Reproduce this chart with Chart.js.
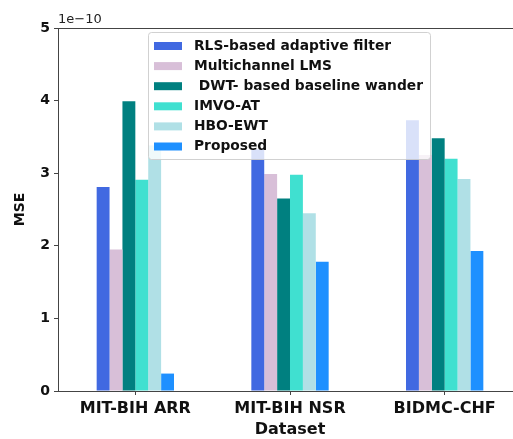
<!DOCTYPE html>
<html>
<head>
<meta charset="utf-8">
<script src="https://cdn.jsdelivr.net/npm/chart.js@4.4.1/dist/chart.umd.min.js"></script>
<style>
html,body{margin:0;padding:0;background:#fff;overflow:hidden;width:513px;height:439px;}
#wrap{width:525px;height:439px;position:relative;}
</style>
</head>
<body>
<div id="wrap"><canvas id="c" width="525" height="439"></canvas></div>
<script>
// Data (MSE in units of 1e-10)
const categories = ['MIT-BIH ARR', 'MIT-BIH NSR', 'BIDMC-CHF'];
const seriesNames = ['RLS-based adaptive filter', 'Multichannel LMS', ' DWT- based baseline wander', 'IMVO-AT', 'HBO-EWT', 'Proposed'];
const rlsValues      = [2.81, 3.33, 3.73];
const lmsValues      = [1.95, 2.99, 3.25];
const dwtValues      = [3.99, 2.65, 3.48];
const imvoValues     = [2.91, 2.98, 3.20];
const hboValues      = [3.38, 2.45, 2.92];
const proposedValues = [0.24, 1.78, 1.93];
const yTicks = [0, 1, 2, 3, 4, 5];
const exponentLabel = '1e\u221210';
const colors = ['#4169E1', '#D8BFD8', '#008080', '#40E0D0', '#B0E0E6', '#1E90FF'];
const allValues = [rlsValues, lmsValues, dwtValues, imvoValues, hboValues, proposedValues];

const FONT = "'DejaVu Sans', sans-serif";

const datasets = seriesNames.map((n, i) => ({
  label: n,
  data: allValues[i],
  backgroundColor: colors[i],
  borderWidth: 0,
  categoryPercentage: 0.5,
  barPercentage: 1.0
}));

const extras = {
  id: 'extras',
  afterDatasetsDraw(chart) {
    const ctx = chart.ctx, a = chart.chartArea;
    ctx.save();
    // top spine
    ctx.strokeStyle = '#444';
    ctx.lineWidth = 1;
    ctx.beginPath();
    ctx.moveTo(a.left, a.top + 0.5);
    ctx.lineTo(a.right, a.top + 0.5);
    ctx.stroke();
    // exponent label
    ctx.fillStyle = '#222';
    ctx.font = "13px " + FONT;
    ctx.textAlign = 'left';
    ctx.textBaseline = 'bottom';
    ctx.fillText(exponentLabel, a.left, a.top - 2);
    // legend
    const lx = a.left + 90, ly = a.top + 4, lw = 282, lh = 127;
    ctx.fillStyle = 'rgba(255,255,255,0.8)';
    ctx.strokeStyle = 'rgba(204,204,204,0.9)';
    ctx.beginPath();
    if (ctx.roundRect) ctx.roundRect(lx + 0.5, ly + 0.5, lw, lh, 3); else ctx.rect(lx + 0.5, ly + 0.5, lw, lh);
    ctx.fill();
    ctx.stroke();
    ctx.font = "bold 13.8px " + FONT;
    ctx.textBaseline = 'middle';
    chart.data.datasets.forEach((ds, i) => {
      const cy = ly + 14 + i * 20.1;
      ctx.fillStyle = ds.backgroundColor;
      ctx.fillRect(lx + 6, cy - 4, 28, 8);
      ctx.fillStyle = '#111';
      ctx.fillText(ds.label, lx + 46, cy);
    });
    ctx.restore();
  }
};

new Chart(document.getElementById('c'), {
  type: 'bar',
  data: { labels: categories, datasets },
  plugins: [extras],
  options: {
    responsive: false,
    animation: false,
    devicePixelRatio: 1,
    layout: { padding: { top: 28, right: 3, left: 0, bottom: 0 } },
    plugins: { legend: { display: false }, tooltip: { enabled: false } },
    scales: {
      x: {
        offset: true,
        grid: { display: true, offset: false, drawOnChartArea: false, drawTicks: true, tickLength: 4, color: '#444' },
        border: { display: true, color: '#444', width: 1 },
        ticks: { color: '#111', font: { family: FONT, size: 16, weight: 'bold' }, padding: 4 },
        title: { display: true, text: 'Dataset', color: '#111', font: { family: FONT, size: 16, weight: 'bold' }, padding: { top: 0, bottom: 0 } },
        afterFit(s) { s.height = 48; }
      },
      y: {
        min: 0, max: 5,
        afterBuildTicks(s) { s.ticks = yTicks.map(v => ({ value: v })); },
        grid: { display: true, drawOnChartArea: false, drawTicks: true, tickLength: 4, color: '#444' },
        border: { display: true, color: '#444', width: 1 },
        ticks: { color: '#111', font: { family: FONT, size: 14, weight: 'bold' }, padding: 4 },
        title: { display: true, text: 'MSE', color: '#111', font: { family: FONT, size: 14, weight: 'bold' }, padding: { top: 12, bottom: 0 } },
        afterFit(s) { s.width = 58; }
      }
    }
  }
});
</script>
</body>
</html>
